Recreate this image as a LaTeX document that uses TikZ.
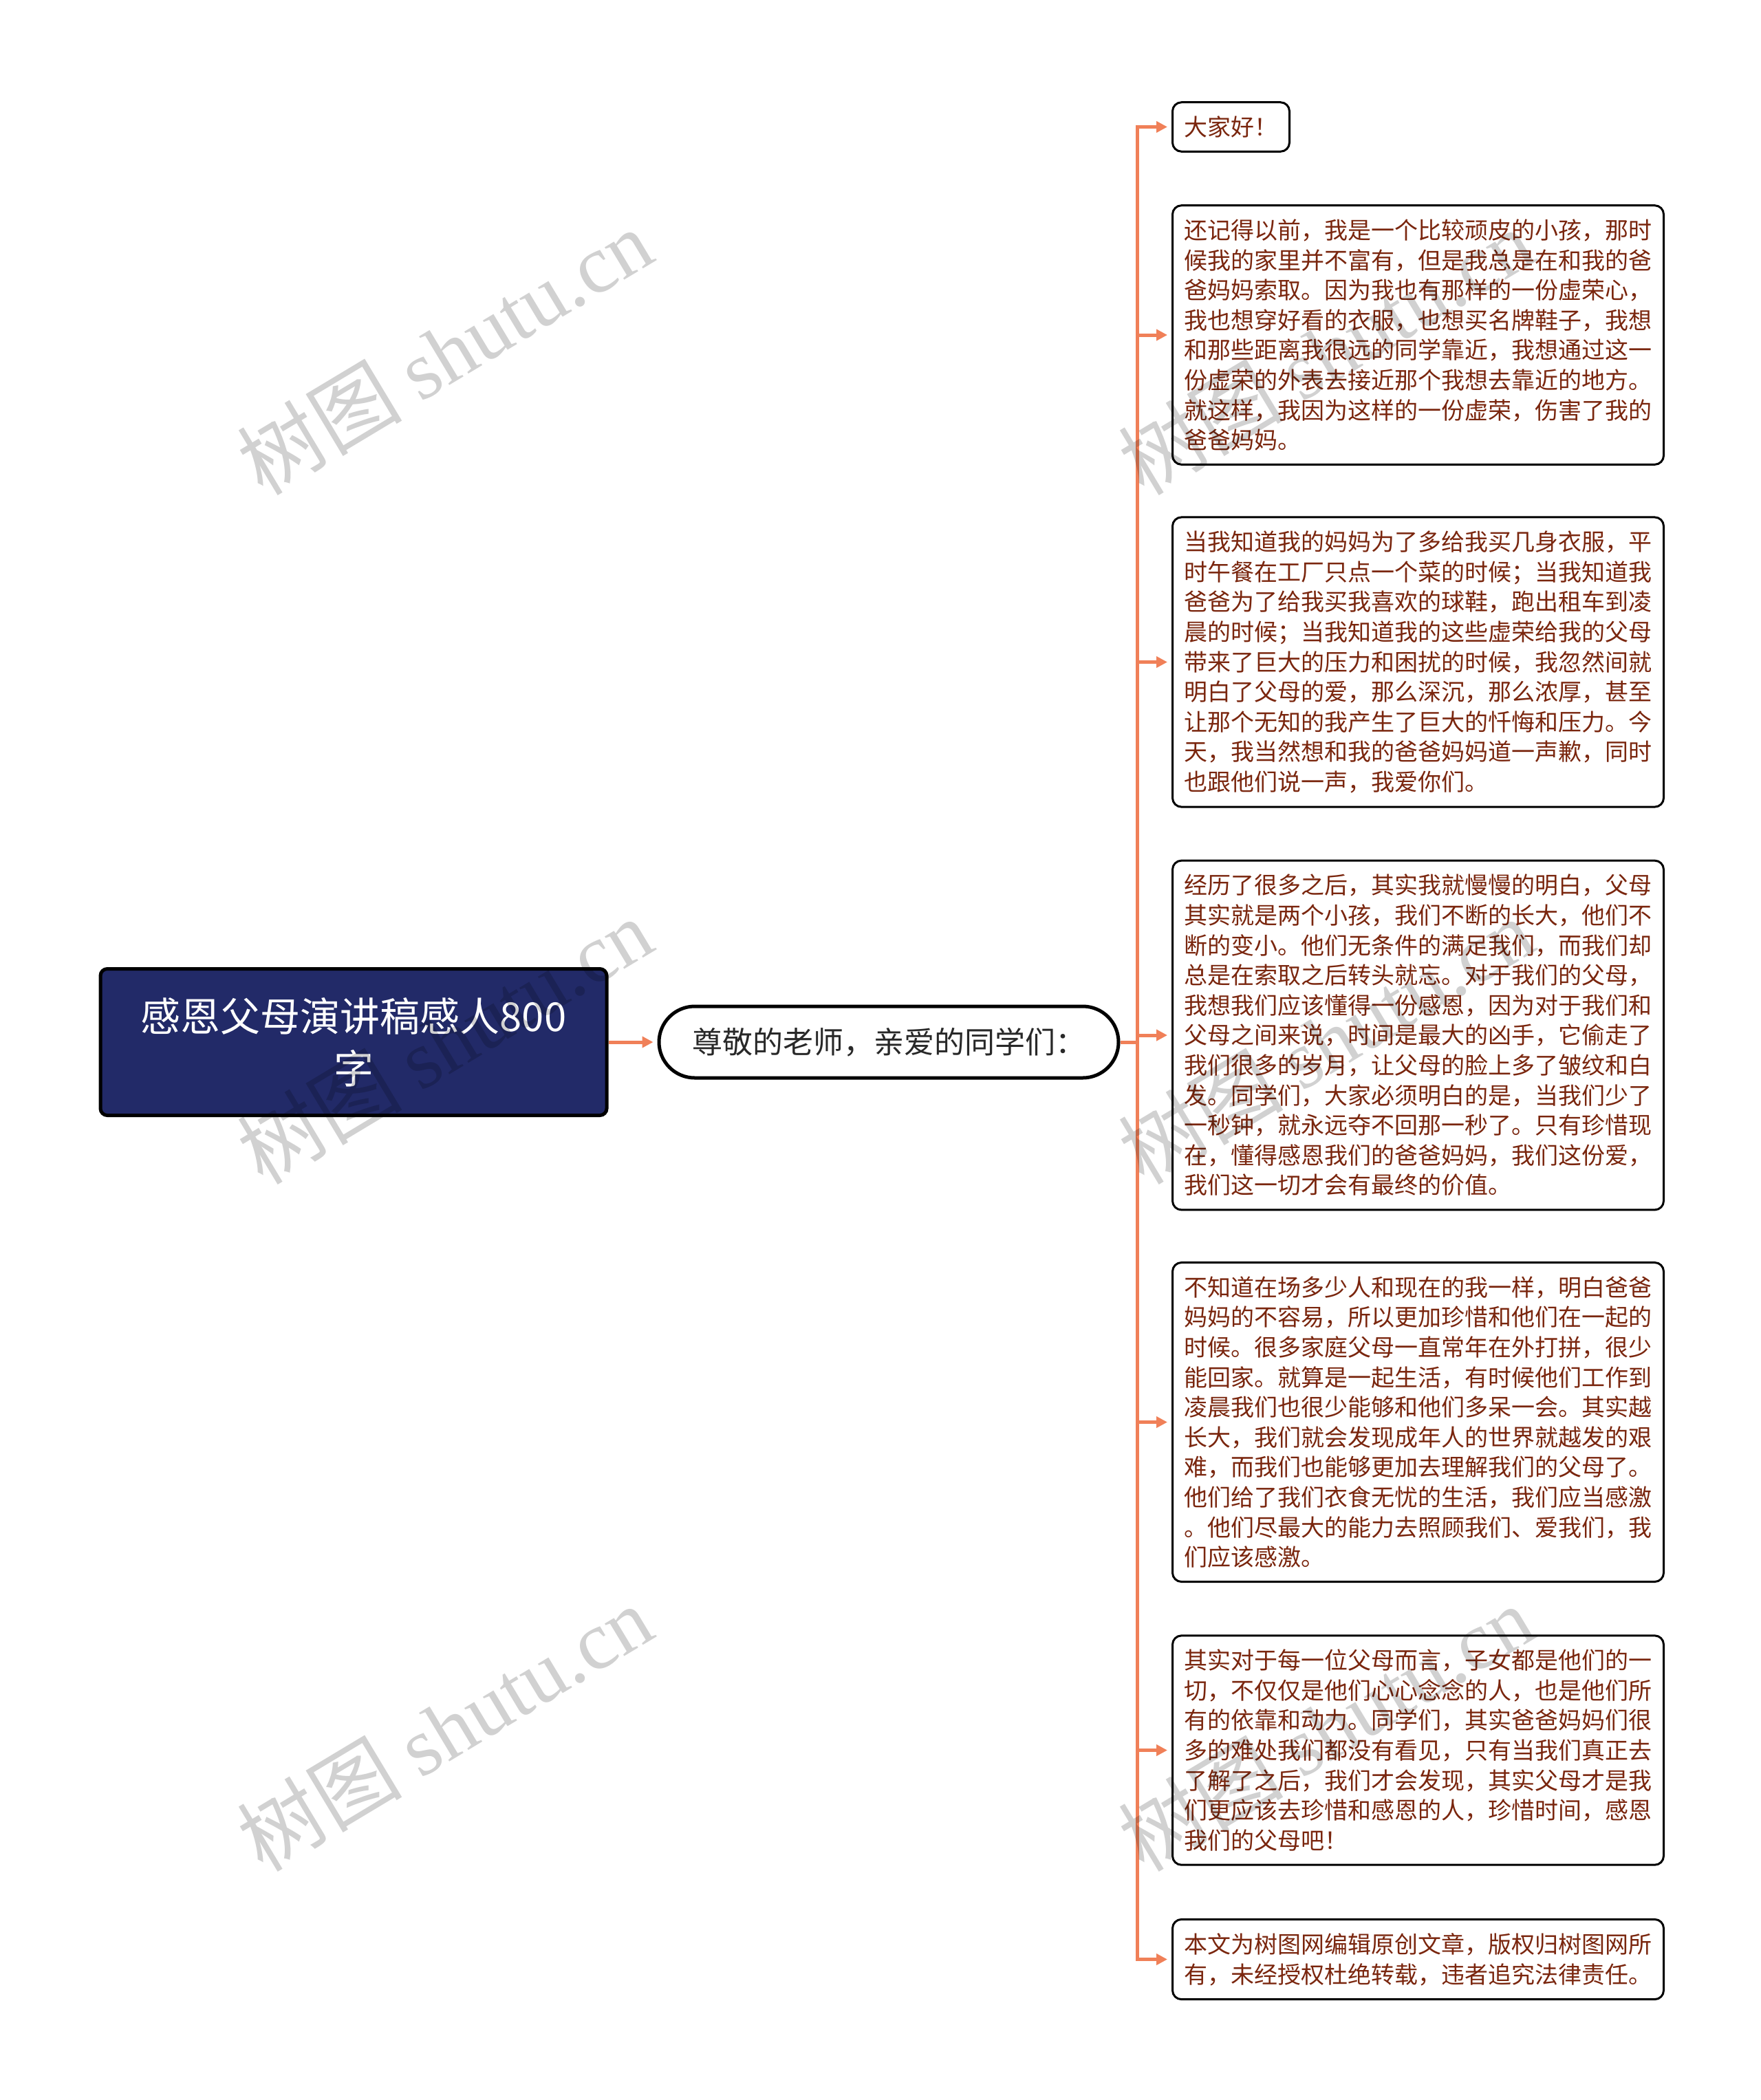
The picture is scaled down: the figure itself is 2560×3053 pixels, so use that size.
\documentclass[tikz,border=0pt]{standalone}
\usepackage{fontspec}
\setmainfont{Noto Sans CJK SC}
\newfontfamily\markfont{Liberation Serif}
\usetikzlibrary{arrows.meta}
\definecolor{rootblue}{RGB}{34,42,104}
\definecolor{linkorange}{RGB}{240,128,88}
\definecolor{leaftext}{RGB}{122,38,14}
\definecolor{midtext}{RGB}{40,40,40}

\begin{document}
\begin{tikzpicture}[
  x=0.5pt, y=-0.5pt,
  rootbox/.style={draw=black, line width=2.5pt, fill=rootblue, rounded corners=5pt, text=white, align=center, font=\fontsize{29pt}{38pt}\selectfont, minimum width=368pt, minimum height=106.5pt},
  midbox/.style={draw=black, line width=2.5pt, fill=white, rounded corners=26pt, text=midtext, font=\fontsize{22pt}{26pt}\selectfont, minimum width=334pt, minimum height=52pt},
  leaf/.style={draw=black, line width=1.5pt, fill=white, rounded corners=6.5pt, text=leaftext, align=left, anchor=west, inner xsep=8.5pt, inner ysep=10pt, font=\fontsize{17pt}{21.8pt}\selectfont},
  link/.style={draw=linkorange, line width=2.5pt, -{Triangle[length=8pt,width=8pt]}, shorten >=3pt},
  trunk/.style={draw=linkorange, line width=2.5pt},
  wmark/.style={text=black!18, rotate=31, font=\fontsize{60pt}{60pt}\selectfont}
]
\useasboundingbox (0,0) rectangle (2560,3053);

\node[rootbox] (root) at (514,1515) {感恩父母演讲稿感人800\\字};
\node[midbox] (mid) at (1292,1515) {尊敬的老师，亲爱的同学们：};

\node[leaf] (leaf1) at (1703,184.5) {大家好！};
\node[leaf] (leaf2) at (1703,487) {还记得以前，我是一个比较顽皮的小孩，那时\\候我的家里并不富有，但是我总是在和我的爸\\爸妈妈索取。因为我也有那样的一份虚荣心，\\我也想穿好看的衣服，也想买名牌鞋子，我想\\和那些距离我很远的同学靠近，我想通过这一\\份虚荣的外表去接近那个我想去靠近的地方。\\就这样，我因为这样的一份虚荣，伤害了我的\\爸爸妈妈。};
\node[leaf] (leaf3) at (1703,962.5) {当我知道我的妈妈为了多给我买几身衣服，平\\时午餐在工厂只点一个菜的时候；当我知道我\\爸爸为了给我买我喜欢的球鞋，跑出租车到凌\\晨的时候；当我知道我的这些虚荣给我的父母\\带来了巨大的压力和困扰的时候，我忽然间就\\明白了父母的爱，那么深沉，那么浓厚，甚至\\让那个无知的我产生了巨大的忏悔和压力。今\\天，我当然想和我的爸爸妈妈道一声歉，同时\\也跟他们说一声，我爱你们。};
\node[leaf] (leaf4) at (1703,1505) {经历了很多之后，其实我就慢慢的明白，父母\\其实就是两个小孩，我们不断的长大，他们不\\断的变小。他们无条件的满足我们，而我们却\\总是在索取之后转头就忘。对于我们的父母，\\我想我们应该懂得一份感恩，因为对于我们和\\父母之间来说，时间是最大的凶手，它偷走了\\我们很多的岁月，让父母的脸上多了皱纹和白\\发。同学们，大家必须明白的是，当我们少了\\一秒钟，就永远夺不回那一秒了。只有珍惜现\\在，懂得感恩我们的爸爸妈妈，我们这份爱，\\我们这一切才会有最终的价值。};
\node[leaf] (leaf5) at (1703,2067.5) {不知道在场多少人和现在的我一样，明白爸爸\\妈妈的不容易，所以更加珍惜和他们在一起的\\时候。很多家庭父母一直常年在外打拼，很少\\能回家。就算是一起生活，有时候他们工作到\\凌晨我们也很少能够和他们多呆一会。其实越\\长大，我们就会发现成年人的世界就越发的艰\\难，而我们也能够更加去理解我们的父母了。\\他们给了我们衣食无忧的生活，我们应当感激\\。他们尽最大的能力去照顾我们、爱我们，我\\们应该感激。};
\node[leaf] (leaf6) at (1703,2544.5) {其实对于每一位父母而言，子女都是他们的一\\切，不仅仅是他们心心念念的人，也是他们所\\有的依靠和动力。同学们，其实爸爸妈妈们很\\多的难处我们都没有看见，只有当我们真正去\\了解了之后，我们才会发现，其实父母才是我\\们更应该去珍惜和感恩的人，珍惜时间，感恩\\我们的父母吧！};
\node[leaf] (leaf7) at (1703,2848.5) {本文为树图网编辑原创文章，版权归树图网所\\有，未经授权杜绝转载，违者追究法律责任。};

\coordinate (fork) at (1653,1515);
\draw[link] (root.east) -- (mid.west);
\draw[trunk] (mid.east) -- (fork);
\foreach \n in {1,...,7}
  \draw[link] (fork) |- (leaf\n.west);

\begin{scope}[blend mode=multiply]
\foreach \wx/\wy in {646/511, 646/1513, 646/2512, 1927/511, 1927/1513, 1927/2512}
  \node[wmark] at (\wx,\wy) {树图 {\markfont shutu.cn}};
\end{scope}

\end{tikzpicture}
\end{document}
